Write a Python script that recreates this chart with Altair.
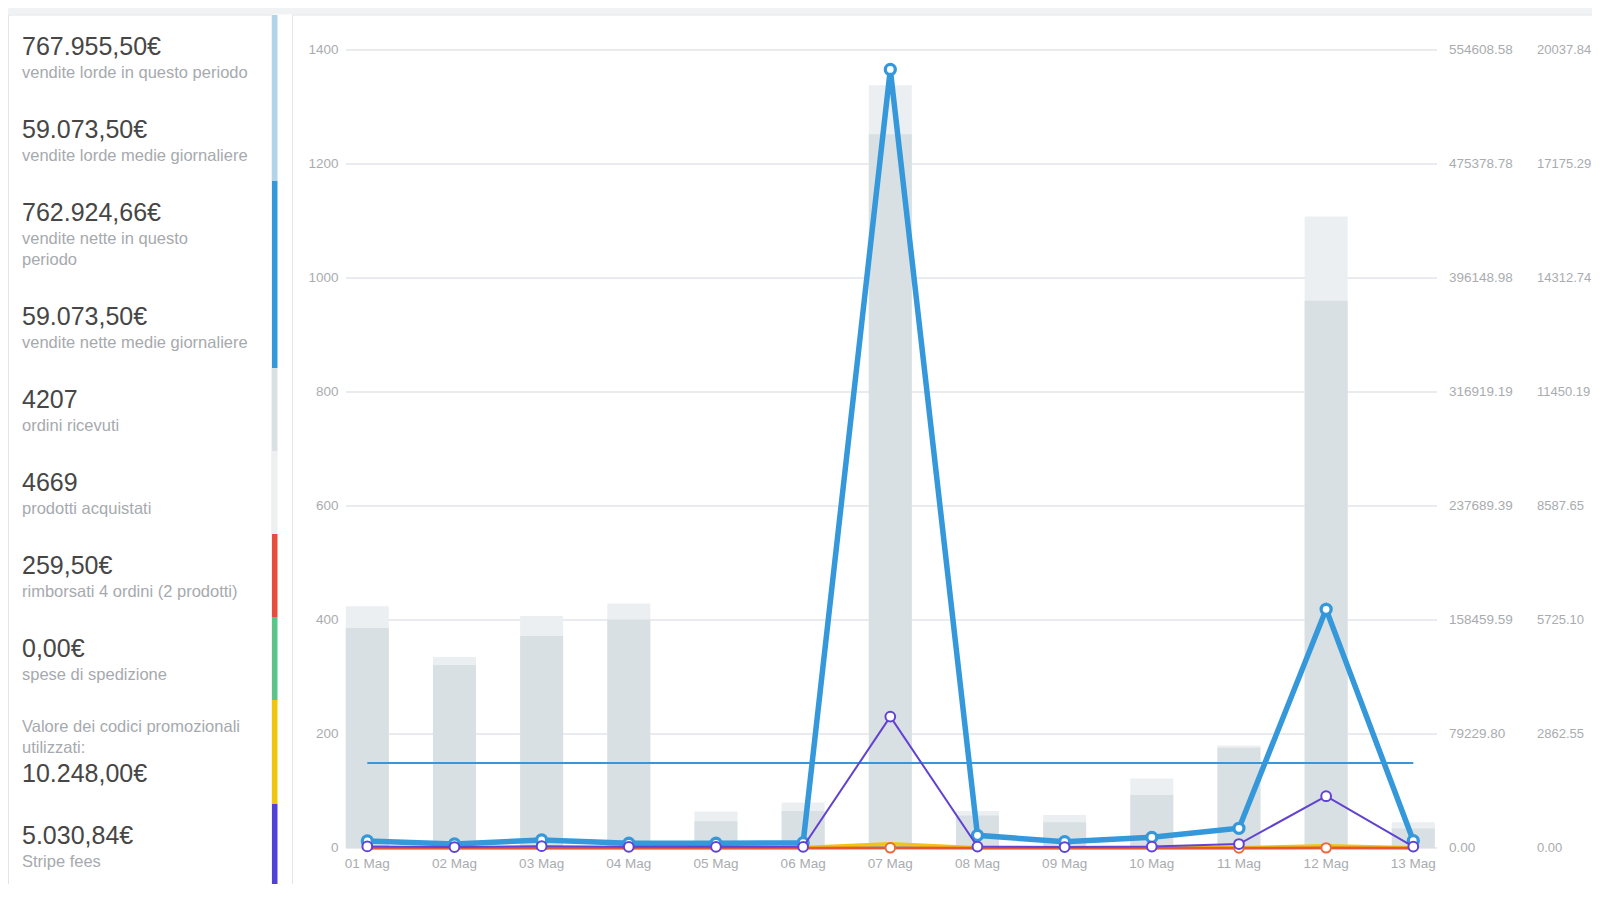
import altair as alt
import pandas as pd

# ---------------- data ----------------
days = ["01 Mag", "02 Mag", "03 Mag", "04 Mag", "05 Mag", "06 Mag", "07 Mag",
        "08 Mag", "09 Mag", "10 Mag", "11 Mag", "12 Mag", "13 Mag"]
orders = [386, 321, 372, 401, 47, 65, 1252, 57, 45, 93, 176, 960, 34]
items = [424, 335, 407, 429, 64, 80, 1338, 65, 58, 122, 180, 1108, 45]
net_sales = [4900, 2800, 5600, 3300, 3300, 3700, 541100, 8800, 4400, 7400, 13700, 165900, 5100]
coupons = [0, 0, 0, 0, 0, 350, 3000, 250, 100, 150, 250, 1500, 100]
refunds = [0, 0, 0, 0, 0, 0, 120, 0, 0, 0, 49.5, 90, 0]
shipping = [0, 0, 0, 0, 0, 0, 0, 0, 0, 0, 0, 0, 0]
stripe_fees = [40, 25, 45, 30, 30, 30, 3300, 35, 25, 35, 100, 1300, 35]
avg_net = 59073.50

count_ticks = [0, 200, 400, 600, 800, 1000, 1200, 1400]
amount_labels = ["0.00", "79229.80", "158459.59", "237689.39", "316919.19",
                 "396148.98", "475378.78", "554608.58"]
fee_labels = ["0.00", "2862.55", "5725.10", "8587.65", "11450.19",
              "14312.74", "17175.29", "20037.84"]

summary_values = ["767.955,50€", "59.073,50€", "762.924,66€", "59.073,50€", "4207",
                  "4669", "259,50€", "0,00€", "10.248,00€", "5.030,84€"]
summary_labels = [["vendite lorde in questo periodo"],
                  ["vendite lorde medie giornaliere"],
                  ["vendite nette in questo", "periodo"],
                  ["vendite nette medie giornaliere"],
                  ["ordini ricevuti"],
                  ["prodotti acquistati"],
                  ["rimborsati 4 ordini (2 prodotti)"],
                  ["spese di spedizione"],
                  ["Valore dei codici promozionali", "utilizzati:"],
                  ["Stripe fees"]]
summary_label_first = [False, False, False, False, False, False, False, False, True, False]
summary_colors = ["#b1d4ea", "#b1d4ea", "#3498db", "#3498db", "#dbe1e3",
                  "#ecf0f1", "#e74c3c", "#5cc488", "#f1c40f", "#5041d8"]

# ---------------- layout ----------------
OFF = 8
FONT = "Liberation Sans"
W, H = 1584, 876

def c(v):
    return v - OFF

val_rows, lab_rows, strip_rows = [], [], []
top = 15
for v, labs, lf, col in zip(summary_values, summary_labels, summary_label_first, summary_colors):
    n = len(labs)
    h = 83 + 21 * (n - 1)
    if lf:
        for k, l in enumerate(labs):
            lab_rows.append({"text": l, "y": c(top + 27 + 21 * k)})
        val_rows.append({"text": v, "y": c(top + 27 + 21 * (n - 1) + 26)})
    else:
        val_rows.append({"text": v, "y": c(top + 32)})
        for k, l in enumerate(labs):
            lab_rows.append({"text": l, "y": c(top + 58 + 21 * k)})
    strip_rows.append({"y0": c(top), "y1": c(top + h), "color": col})
    top += h

val_df = pd.DataFrame(val_rows)
lab_df = pd.DataFrame(lab_rows)
strip_df = pd.DataFrame(strip_rows)

df = pd.DataFrame({"day": days, "orders": orders, "items": items, "net": net_sales,
                   "coupons": coupons, "refunds": refunds, "shipping": shipping,
                   "fees": stripe_fees})
tick_df = pd.DataFrame({"tick": count_ticks, "label": [str(t) for t in count_ticks]})
amt_df = pd.DataFrame({"v": [float(s) for s in amount_labels], "label": amount_labels})
fee_df = pd.DataFrame({"v": [float(s) for s in fee_labels], "label": fee_labels})
avg_df = pd.DataFrame({"avg": [avg_net], "start": [days[0]], "end": [days[-1]]})
one = alt.Data(values=[{"a": 1}])

Y0, Y1 = c(848), c(50)
xs = alt.Scale(type="point", domain=days, range=[c(367.3), c(1413.3)], padding=0)
cnt = alt.Scale(domain=[0, 1400], range=[Y0, Y1], nice=False, zero=True)
amax = float(amount_labels[-1])
fmax = float(fee_labels[-1])
amt = alt.Scale(domain=[0, amax], range=[Y0, Y1], nice=False, zero=True)
fee = alt.Scale(domain=[0, fmax], range=[Y0, Y1], nice=False, zero=True)

X = alt.X("day:N", scale=xs, axis=None)

layers = []

# top grey band
layers.append(alt.Chart(one).mark_rect(fill="#f1f2f3").encode(
    x=alt.value(0), x2=alt.value(W), y=alt.value(0), y2=alt.value(c(14.5))))
# sidebar panel
layers.append(alt.Chart(one).mark_rect(fill="white", stroke="#e2e4e7", strokeWidth=1).encode(
    x=alt.value(0.5), x2=alt.value(c(272)), y=alt.value(c(15)), y2=alt.value(H + 10)))
# main panel
layers.append(alt.Chart(one).mark_rect(fill="white", stroke="#e2e4e7", strokeWidth=1).encode(
    x=alt.value(c(292.5)), x2=alt.value(W + 20), y=alt.value(c(15)), y2=alt.value(c(884.5))))
# colour strip
layers.append(alt.Chart(strip_df).mark_rect().encode(
    x=alt.value(c(272)), x2=alt.value(c(277.5)),
    y=alt.Y("y0:Q", scale=None), y2="y1:Q",
    color=alt.Color("color:N", scale=None)))
# sidebar texts
layers.append(alt.Chart(val_df).mark_text(align="left", baseline="middle", font=FONT,
                                          fontSize=25, color="#464646").encode(
    x=alt.value(c(22)), y=alt.Y("y:Q", scale=None), text="text:N"))
layers.append(alt.Chart(lab_df).mark_text(align="left", baseline="middle", font=FONT,
                                          fontSize=16.5, color="#a6aaae").encode(
    x=alt.value(c(22)), y=alt.Y("y:Q", scale=None), text="text:N"))

# grid lines
layers.append(alt.Chart(tick_df).mark_rule(color="#e3e5e8", strokeWidth=1.3).encode(
    y=alt.Y("tick:Q", scale=cnt, axis=None), x=alt.value(c(346)), x2=alt.value(c(1437))))
# axis labels
layers.append(alt.Chart(tick_df).mark_text(align="right", baseline="middle", font=FONT,
                                           fontSize=13.5, color="#a9acaf").encode(
    y=alt.Y("tick:Q", scale=cnt, axis=None), x=alt.value(c(338.5)), text="label:N"))
layers.append(alt.Chart(amt_df).mark_text(align="left", baseline="middle", font=FONT,
                                          fontSize=13.5, color="#a9acaf").encode(
    y=alt.Y("v:Q", scale=amt, axis=None), x=alt.value(c(1449)), text="label:N"))
layers.append(alt.Chart(fee_df).mark_text(align="left", baseline="middle", font=FONT,
                                          fontSize=13, color="#a9acaf").encode(
    y=alt.Y("v:Q", scale=fee, axis=None), x=alt.value(c(1537)), text="label:N"))
layers.append(alt.Chart(df).mark_text(align="center", baseline="middle", font=FONT,
                                      fontSize=13.5, color="#a9acaf").encode(
    x=X, y=alt.value(c(864)), text="day:N"))

# bars
layers.append(alt.Chart(df).mark_bar(width=43, color="#ebeff1").encode(
    x=X, y=alt.Y("items:Q", scale=cnt, axis=None)))
layers.append(alt.Chart(df).mark_bar(width=43, color="#d9e0e3").encode(
    x=X, y=alt.Y("orders:Q", scale=cnt, axis=None)))

# average net sales
layers.append(alt.Chart(avg_df).mark_rule(color="#3a96d6", strokeWidth=2).encode(
    x=alt.X("start:N", scale=xs, axis=None), x2="end:N",
    y=alt.Y("avg:Q", scale=amt, axis=None)))

# shipping, coupons, refunds
layers.append(alt.Chart(df).mark_line(color="#5cc488", strokeWidth=3).encode(
    x=X, y=alt.Y("shipping:Q", scale=amt, axis=None)))
layers.append(alt.Chart(df).mark_line(color="#f1c40f", strokeWidth=3.5).encode(
    x=X, y=alt.Y("coupons:Q", scale=amt, axis=None)))
layers.append(alt.Chart(df).mark_line(color="#e4573b", strokeWidth=2.5).encode(
    x=X, y=alt.Y("refunds:Q", scale=amt, axis=None)))
layers.append(alt.Chart(df).transform_filter("datum.refunds > 0").mark_point(
    shape="circle", filled=True, fill="white", stroke="#ea6a3c", strokeWidth=2,
    size=90, opacity=1).encode(
    x=X, y=alt.Y("refunds:Q", scale=amt, axis=None)))

# net sales
layers.append(alt.Chart(df).mark_line(color="#3498db", strokeWidth=5.5).encode(
    x=X, y=alt.Y("net:Q", scale=amt, axis=None)))
layers.append(alt.Chart(df).mark_point(
    shape="circle", filled=True, fill="white", stroke="#3498db", strokeWidth=3.3,
    size=100, opacity=1).encode(
    x=X, y=alt.Y("net:Q", scale=amt, axis=None)))

# stripe fees
layers.append(alt.Chart(df).mark_line(color="#6142d2", strokeWidth=2).encode(
    x=X, y=alt.Y("fees:Q", scale=fee, axis=None)))
layers.append(alt.Chart(df).mark_point(
    shape="circle", filled=True, fill="white", stroke="#6142d2", strokeWidth=2,
    size=95, opacity=1).encode(
    x=X, y=alt.Y("fees:Q", scale=fee, axis=None)))

chart = alt.layer(*layers).resolve_scale(y="independent").properties(
    width=W, height=H, padding=0,
    autosize=alt.AutoSizeParams(type="none"),
    background="white",
).configure_view(stroke=None)

chart.save("out.html", embed_options={"renderer": "svg", "actions": False})
